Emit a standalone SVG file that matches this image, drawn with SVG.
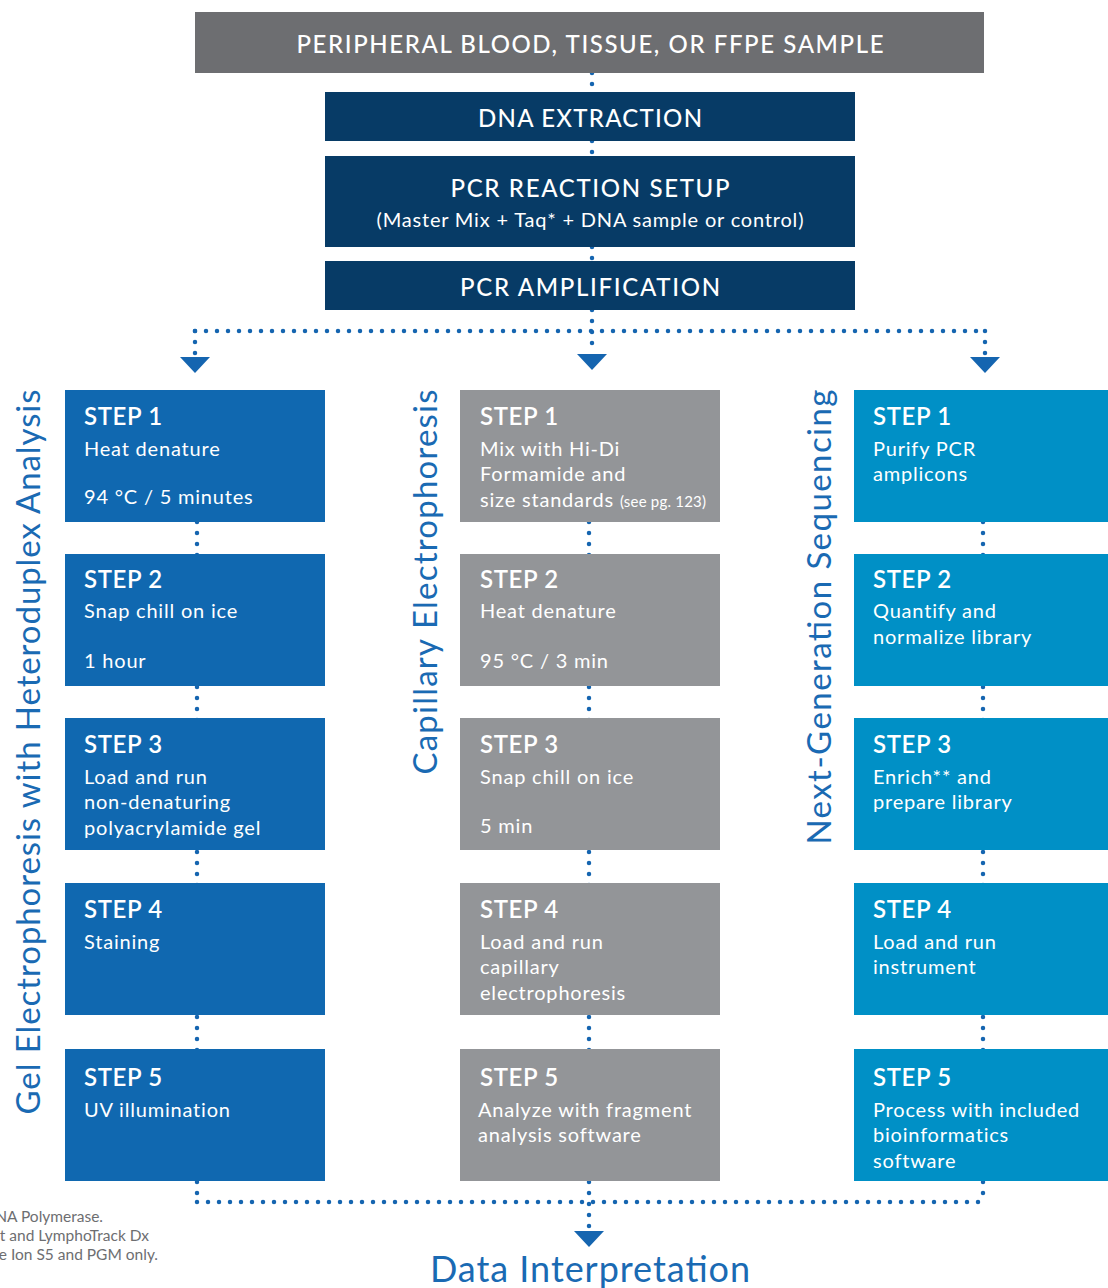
<svg xmlns="http://www.w3.org/2000/svg" width="1108" height="1288" viewBox="0 0 1108 1288">
<style>
.hd{font-family:Lato,"Liberation Sans",sans-serif;fill:#fff;font-size:24px;font-weight:500;text-anchor:middle}
.sub{font-family:Lato,"Liberation Sans",sans-serif;fill:#fff;font-size:20px;text-anchor:middle}
.st{font-family:Lato,"Liberation Sans",sans-serif;fill:#fff;font-size:24px;font-weight:600;letter-spacing:0.6px}
.tx{font-family:Lato,"Liberation Sans",sans-serif;fill:#fff;font-size:20px;letter-spacing:0.8px}
.sm{font-size:15px;letter-spacing:0.2px}
.vl{font-family:Lato,"Liberation Sans",sans-serif;fill:#1a6ab3;font-size:33px;text-anchor:middle}
.fn{font-family:Lato,"Liberation Sans",sans-serif;fill:#6d6e71;font-size:15.5px;text-anchor:end}
.dot{stroke:#1565b0;stroke-width:4.5;stroke-linecap:round;stroke-dasharray:0 11;fill:none}
.arr{fill:#1565b0}
.blue{fill:#1068b0}
.gray{fill:#939598}
.cyan{fill:#0090c6}
.navy{fill:#073b66}
</style>
<g id="connectors">
<line class="dot" x1="592" y1="73" x2="592" y2="92"/>
<line class="dot" x1="592" y1="141" x2="592" y2="156"/>
<line class="dot" x1="592" y1="247" x2="592" y2="261"/>
<line class="dot" x1="592" y1="310" x2="592" y2="349"/>
<line class="dot" x1="195" y1="331" x2="987" y2="331"/>
<line class="dot" x1="195" y1="331" x2="195" y2="355"/>
<line class="dot" x1="985" y1="331" x2="985" y2="355"/>
<polygon class="arr" points="180,357 210,357 195,373"/>
<polygon class="arr" points="577,354 607,354 592,370"/>
<polygon class="arr" points="970,357 1000,357 985,373"/>
<line class="dot" x1="197" y1="522" x2="197" y2="1202"/>
<line class="dot" x1="589" y1="522" x2="589" y2="1230"/>
<line class="dot" x1="983" y1="522" x2="983" y2="1202"/>
<line class="dot" x1="197" y1="1202" x2="985" y2="1202"/>
<polygon class="arr" points="574,1231 604,1231 589,1247"/>
</g>
<g id="sample"><rect x="195" y="12" width="789" height="61" fill="#6d6e71"/><text class="hd" x="590" y="53" textLength="587">PERIPHERAL BLOOD, TISSUE, OR FFPE SAMPLE</text></g>
<g id="dna-extraction"><rect class="navy" x="325" y="92" width="530" height="49"/><text class="hd" x="590" y="127" textLength="224">DNA EXTRACTION</text></g>
<g id="pcr-setup"><rect class="navy" x="325" y="156" width="530" height="91"/><text class="hd" x="590" y="197" textLength="279">PCR REACTION SETUP</text><text class="sub" x="590" y="227" textLength="427">(Master Mix + Taq* + DNA sample or control)</text></g>
<g id="pcr-amplification"><rect class="navy" x="325" y="261" width="530" height="49"/><text class="hd" x="590" y="296" textLength="260">PCR AMPLIFICATION</text></g>

<g id="label-gel"><text class="vl" transform="translate(40,752) rotate(-90)" textLength="725">Gel Electrophoresis with Heteroduplex Analysis</text></g>
<g id="label-ce"><text class="vl" transform="translate(437,582) rotate(-90)" textLength="385">Capillary Electrophoresis</text></g>
<g id="label-ngs"><text class="vl" transform="translate(831,617) rotate(-90)" textLength="455">Next-Generation Sequencing</text></g>

<g id="gel-step1"><rect class="blue" x="65" y="390" width="260" height="132"/><text class="st" x="84" y="425">STEP 1</text><text class="tx" x="84" y="456">Heat denature</text><text class="tx" x="84" y="504">94 °C / 5 minutes</text></g>
<g id="gel-step2"><rect class="blue" x="65" y="554" width="260" height="132"/><text class="st" x="84" y="588">STEP 2</text><text class="tx" x="84" y="618">Snap chill on ice</text><text class="tx" x="84" y="668">1 hour</text></g>
<g id="gel-step3"><rect class="blue" x="65" y="718" width="260" height="132"/><text class="st" x="84" y="753">STEP 3</text><text class="tx" x="84" y="784">Load and run</text><text class="tx" x="84" y="809">non-denaturing</text><text class="tx" x="84" y="835">polyacrylamide gel</text></g>
<g id="gel-step4"><rect class="blue" x="65" y="883" width="260" height="132"/><text class="st" x="84" y="918">STEP 4</text><text class="tx" x="84" y="949">Staining</text></g>
<g id="gel-step5"><rect class="blue" x="65" y="1049" width="260" height="132"/><text class="st" x="84" y="1086">STEP 5</text><text class="tx" x="84" y="1117">UV illumination</text></g>

<g id="ce-step1"><rect class="gray" x="460" y="390" width="260" height="132"/><text class="st" x="480" y="425">STEP 1</text><text class="tx" x="480" y="456">Mix with Hi-Di</text><text class="tx" x="480" y="481">Formamide and</text><text class="tx" x="480" y="507">size standards <tspan class="sm">(see pg. 123)</tspan></text></g>
<g id="ce-step2"><rect class="gray" x="460" y="554" width="260" height="132"/><text class="st" x="480" y="588">STEP 2</text><text class="tx" x="480" y="618">Heat denature</text><text class="tx" x="480" y="668">95 °C / 3 min</text></g>
<g id="ce-step3"><rect class="gray" x="460" y="718" width="260" height="132"/><text class="st" x="480" y="753">STEP 3</text><text class="tx" x="480" y="784">Snap chill on ice</text><text class="tx" x="480" y="833">5 min</text></g>
<g id="ce-step4"><rect class="gray" x="460" y="883" width="260" height="132"/><text class="st" x="480" y="918">STEP 4</text><text class="tx" x="480" y="949">Load and run</text><text class="tx" x="480" y="974">capillary</text><text class="tx" x="480" y="1000">electrophoresis</text></g>
<g id="ce-step5"><rect class="gray" x="460" y="1049" width="260" height="132"/><text class="st" x="480" y="1086">STEP 5</text><text class="tx" x="478" y="1117">Analyze with fragment</text><text class="tx" x="478" y="1142">analysis software</text></g>

<g id="ngs-step1"><rect class="cyan" x="854" y="390" width="254" height="132"/><text class="st" x="873" y="425">STEP 1</text><text class="tx" x="873" y="456">Purify PCR</text><text class="tx" x="873" y="481">amplicons</text></g>
<g id="ngs-step2"><rect class="cyan" x="854" y="554" width="254" height="132"/><text class="st" x="873" y="588">STEP 2</text><text class="tx" x="873" y="618">Quantify and</text><text class="tx" x="873" y="644">normalize library</text></g>
<g id="ngs-step3"><rect class="cyan" x="854" y="718" width="254" height="132"/><text class="st" x="873" y="753">STEP 3</text><text class="tx" x="873" y="784">Enrich** and</text><text class="tx" x="873" y="809">prepare library</text></g>
<g id="ngs-step4"><rect class="cyan" x="854" y="883" width="254" height="132"/><text class="st" x="873" y="918">STEP 4</text><text class="tx" x="873" y="949">Load and run</text><text class="tx" x="873" y="974">instrument</text></g>
<g id="ngs-step5"><rect class="cyan" x="854" y="1049" width="254" height="132"/><text class="st" x="873" y="1086">STEP 5</text><text class="tx" x="873" y="1117">Process with included</text><text class="tx" x="873" y="1142">bioinformatics</text><text class="tx" x="873" y="1168">software</text></g>

<g id="data-interpretation"><text x="590" y="1282" font-family="Lato,'Liberation Sans',sans-serif" font-size="36" fill="#1a6ab3" text-anchor="middle" textLength="320">Data Interpretation</text></g>
<g id="footnotes">
<text class="fn" x="103" y="1222">NA Polymerase.</text>
<text class="fn" x="149" y="1241">t and LymphoTrack Dx</text>
<text class="fn" x="158" y="1260">e Ion S5 and PGM only.</text>
</g>
</svg>
